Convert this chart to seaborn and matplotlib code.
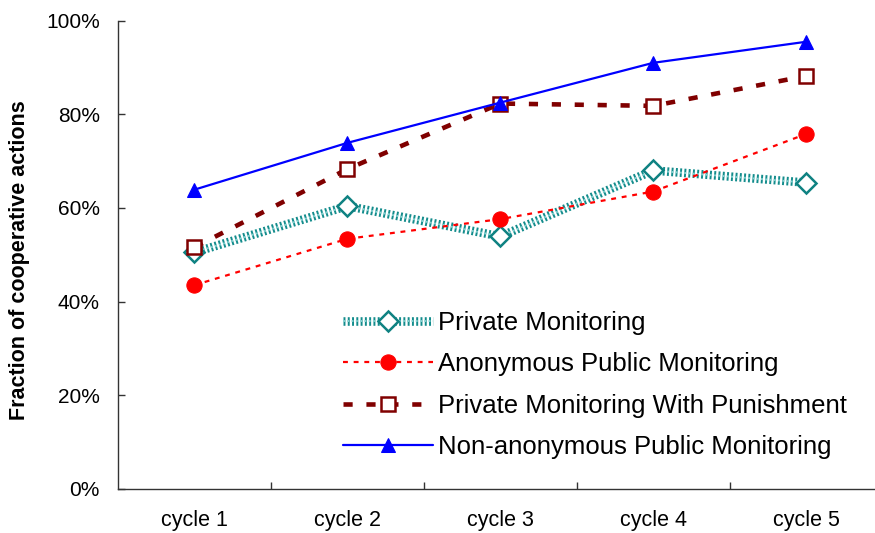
import matplotlib
matplotlib.use("Agg")
import matplotlib.pyplot as plt
import matplotlib.patheffects as pe
from matplotlib.ticker import FixedLocator, FuncFormatter
import seaborn as sns
import pandas as pd

# ---- data (percent) ----
cycles = ["cycle 1", "cycle 2", "cycle 3", "cycle 4", "cycle 5"]
private_monitoring = [50.5, 60.4, 53.9, 68.0, 65.4]
anonymous_public = [43.5, 53.4, 57.6, 63.5, 75.8]
private_with_punishment = [51.6, 68.3, 82.3, 81.8, 88.2]
non_anonymous_public = [63.9, 73.9, 82.5, 91.0, 95.5]
series_names = ["Private Monitoring", "Anonymous Public Monitoring",
                "Private Monitoring With Punishment", "Non-anonymous Public Monitoring"]
y_ticks = [0, 20, 40, 60, 80, 100]
y_label = "Fraction of cooperative actions"

sns.set_theme(style="white")
plt.rcParams["font.family"] = ["Liberation Sans", "DejaVu Sans"]

fig = plt.figure(figsize=(8.75, 5.33), dpi=100)
ax = fig.add_axes([118 / 875, 1 - 488.7 / 533, 1 - 118 / 875, (488.7 - 20.7) / 533])

df = pd.DataFrame({"cycle": cycles,
                   "pm": private_monitoring,
                   "apm": anonymous_public,
                   "pmp": private_with_punishment,
                   "nap": non_anonymous_public})
df["pos"] = range(len(cycles))

teal_dark = "#0f8282"
teal_band = "#138c8c"

# Private Monitoring: textured thick band + diamond markers
sns.lineplot(data=df, x="pos", y="pm", ax=ax, color="#86d2d2", linewidth=1.4,
             path_effects=[pe.Stroke(linewidth=6.2, foreground=teal_band),
                           pe.Normal()],
             linestyle=(0, (1, 1.2)), zorder=2, legend=False)
line_pm = ax.lines[-1]
sns.lineplot(data=df, x="pos", y="pm", ax=ax, linestyle="", marker="D",
             markersize=10.5, markerfacecolor="white", markeredgecolor=teal_dark,
             markeredgewidth=1.8, zorder=3, legend=False)
mark_pm = ax.lines[-1]

sns.lineplot(data=df, x="pos", y="apm", ax=ax, color="#ff0000", linewidth=1.6,
             linestyle=(0, (2.2, 2.6)), marker="o", markersize=11,
             markerfacecolor="#ff0000", markeredgecolor="#ff0000", zorder=4,
             legend=False)
line_apm = ax.lines[-1]

sns.lineplot(data=df, x="pos", y="pmp", ax=ax, color="#800000", linewidth=3.3,
             linestyle=(0, (2.0, 3.0)), marker="s", markersize=10,
             markerfacecolor="white", markeredgecolor="#800000",
             markeredgewidth=1.8, zorder=5, legend=False)
line_pmp = ax.lines[-1]

sns.lineplot(data=df, x="pos", y="nap", ax=ax, color="#0000ff", linewidth=1.6,
             linestyle="-", marker="^", markersize=10.5,
             markerfacecolor="#0000ff", markeredgecolor="#0000ff", zorder=6,
             legend=False)
line_nap = ax.lines[-1]

ax.set_xlim(-0.5, 4.45)
ax.set_ylim(0, 100)
ax.set_xlabel("")
ax.set_xticks(range(len(cycles)))
ax.set_xticklabels(cycles)
ax.xaxis.set_minor_locator(FixedLocator([0.5, 1.5, 2.5, 3.5]))
ax.tick_params(axis="x", which="major", length=0, labelsize=15.5, pad=15,
               labelcolor="black")
ax.tick_params(axis="x", which="minor", length=5, width=1, direction="in",
               color="#333333", bottom=True)
ax.set_yticks(y_ticks)
ax.yaxis.set_major_formatter(FuncFormatter(lambda v, p: f"{v:.0f}%"))
ax.tick_params(axis="y", which="major", length=5, width=1, direction="in",
               labelsize=15, pad=13, color="#333333", left=True, labelcolor="black")

for s in ["top", "right"]:
    ax.spines[s].set_visible(False)
for s in ["left", "bottom"]:
    ax.spines[s].set_color("#333333")
    ax.spines[s].set_linewidth(1.0)

ax.set_ylabel(y_label, fontsize=15.5, fontweight="bold", color="black")
ax.yaxis.label.set_va("center")
ax.yaxis.set_label_coords((19.5 - 118) / 757, 0.489)

handles = [(line_pm, mark_pm), line_apm, line_pmp, line_nap]
leg = ax.legend(handles, series_names, loc="center left",
                bbox_to_anchor=(343 / 875, 1 - 385 / 533),
                bbox_transform=fig.transFigure, frameon=False, fontsize=18.5,
                handlelength=3.5, handletextpad=0.2, labelspacing=0.68,
                borderpad=0, borderaxespad=0, labelcolor="black")

fig.savefig("out.png", dpi=100)
